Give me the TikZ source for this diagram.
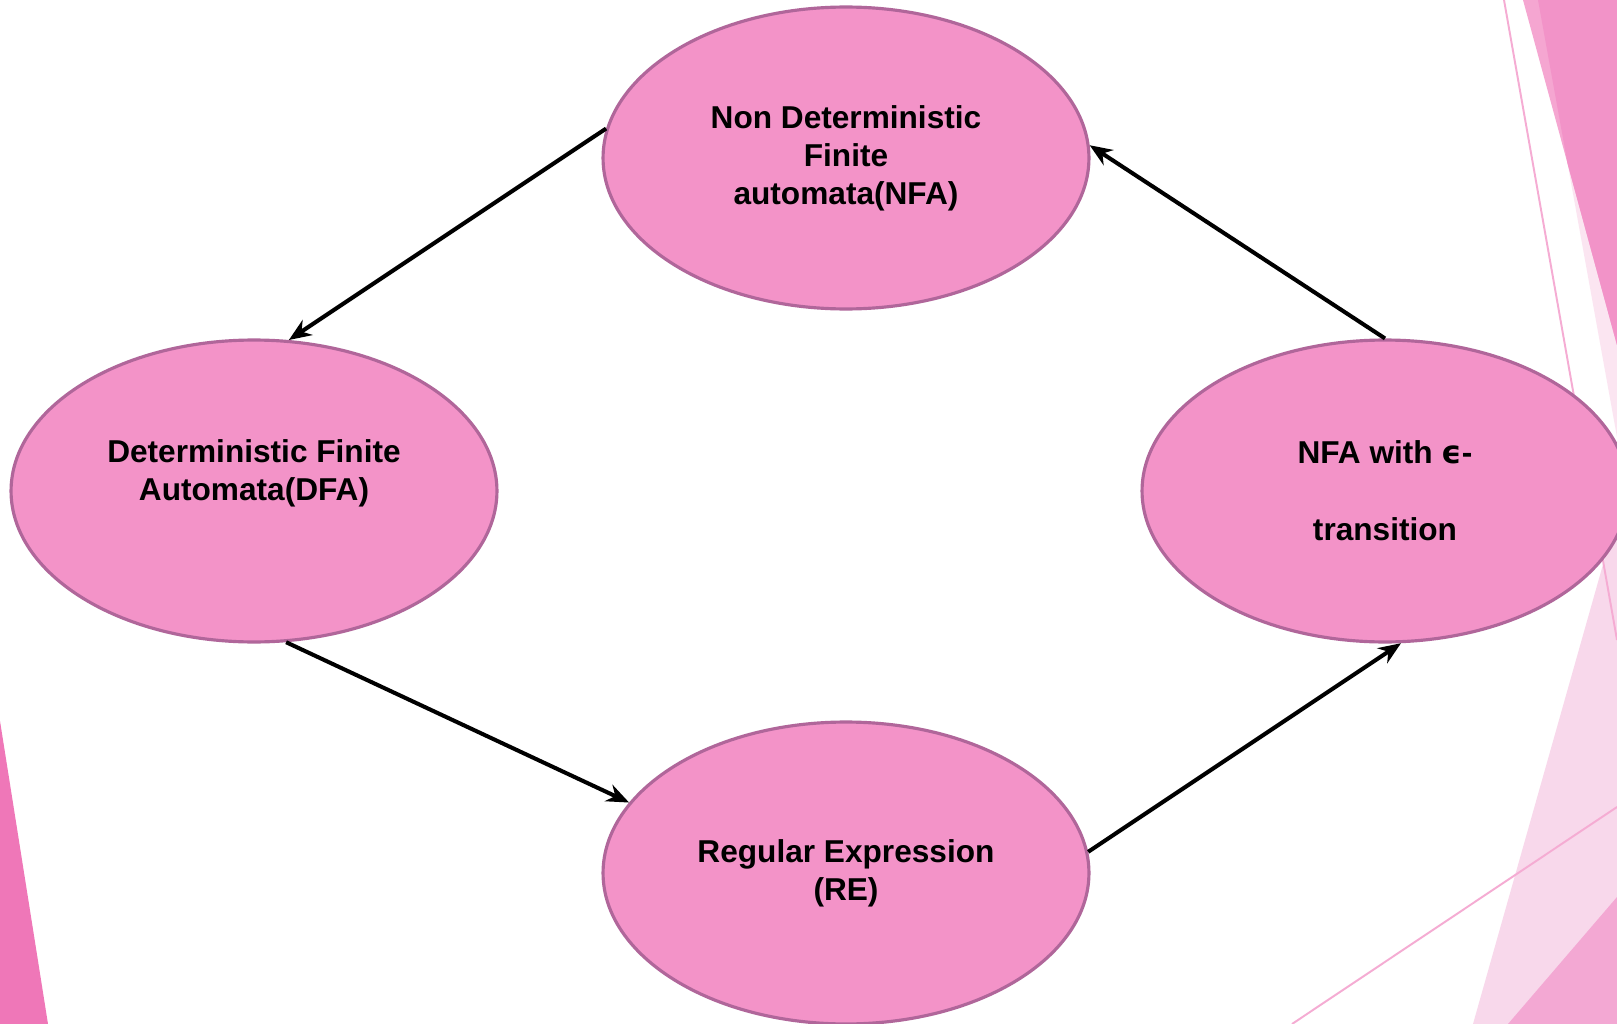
\documentclass[tikz,border=0pt]{standalone}
\usepackage{fontspec}
\setmainfont{Liberation Sans}
\newfontfamily\epsfont{DejaVu Sans}
\usepackage{tikz}
\usetikzlibrary{arrows.meta, shapes.geometric}

\definecolor{machinefill}{HTML}{F393C8}
\definecolor{machineborder}{HTML}{B0669A}
\definecolor{facetdark}{HTML}{F293C8}
\definecolor{facetpale}{HTML}{F5A6D1}
\definecolor{facetwash}{HTML}{FBE5F1}
\definecolor{facetsoft}{HTML}{F8D8EB}
\definecolor{facetmid}{HTML}{F3A8D3}
\definecolor{facetline}{HTML}{F5ACD3}
\definecolor{facetleft}{HTML}{EF77B8}

\tikzset{
  machinetext/.style={font=\fontsize{18}{21.6}\selectfont\bfseries, align=center},
  machine/.style={ellipse, draw=machineborder, line width=1.8pt, fill=machinefill,
    minimum width=9.72cm, minimum height=6.04cm, inner sep=0pt, machinetext},
  flow/.style={-{Stealth[length=0.45cm, width=0.36cm]}, line width=2.3pt, black}
}

\begin{document}
\begin{tikzpicture}[x=0.02cm, y=-0.02cm, >=Stealth]
    % Page
    \useasboundingbox (0,0) rectangle (1617,1024);
    \fill[white] (0,0) rectangle (1617,1024);

    % Facets on the right edge
    \fill[facetwash] (1538,0) -- (1617,0) -- (1617,437) -- cycle;
    \fill[facetpale] (1523,0) -- (1617,0) -- (1617,345) -- cycle;
    \begin{scope}
      \clip (1538,0) -- (1617,0) -- (1617,437) -- cycle;
      \fill[facetdark] (1523,0) -- (1617,0) -- (1617,345) -- cycle;
    \end{scope}
    \fill[facetsoft] (1617,515) -- (1473,1024) -- (1617,1024) -- cycle;
    \fill[facetmid] (1617,897) -- (1508,1024) -- (1617,1024) -- cycle;
    \draw[facetline, line width=1.1pt] (1504,0) -- (1617,640);
    \draw[facetline, line width=1.1pt] (1292,1024) -- (1617,807);

    % Facet on the left edge
    \fill[facetleft] (0,721) -- (48,1024) -- (0,1024) -- cycle;

    % Machines
    \node[machine] (nfa) at (846,158) {Non Deterministic\\Finite\\automata(NFA)};
    \node[machine, label={[machinetext, yshift=0.36cm]center:{Deterministic Finite\\Automata(DFA)}}] (dfa) at (254,491) {};
    \node[machine] (re) at (846,873) {Regular Expression\\(RE)};
    \node[machine] (enfa) at (1385,491) {NFA with {\epsfont ϵ}-\\[0.78cm]transition};

    % Conversions
    \draw[flow] (nfa.173) -- (dfa.77);
    \draw[flow] (dfa.282) -- (re.162);
    \draw[flow] (re.5) -- (enfa.276);
    \draw[flow] (enfa.north) -- (nfa.3);

\end{tikzpicture}
\end{document}
